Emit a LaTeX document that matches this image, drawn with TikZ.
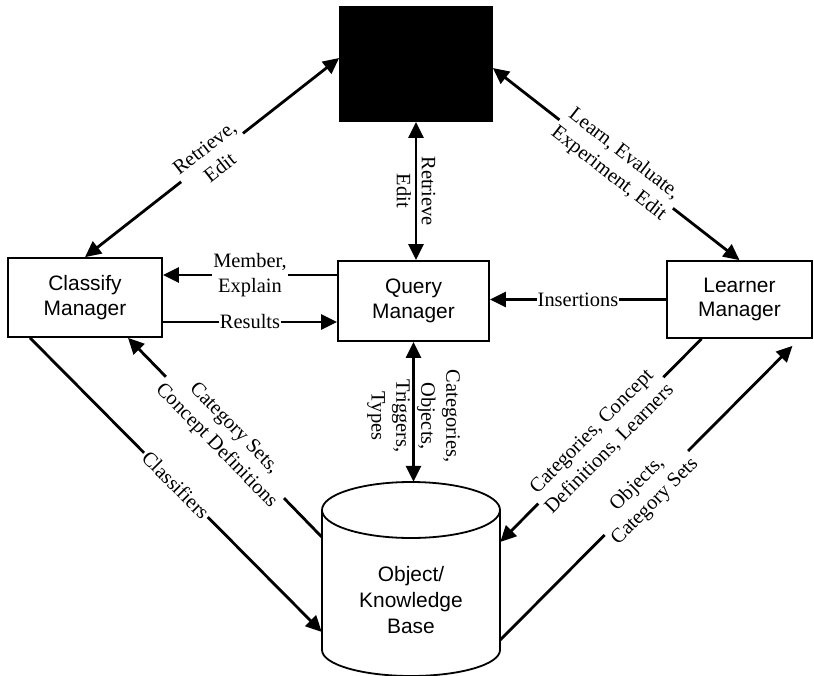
\documentclass[tikz,border=0pt]{standalone}
\usepackage{fontspec}
\setmainfont{Liberation Serif}
\newfontfamily\arialfont{Liberation Sans}
\usetikzlibrary{arrows.meta,calc}
\begin{document}
\begin{tikzpicture}[x=1bp,y=-1bp,
  box/.style={draw, line width=1.7bp, inner sep=0, font=\arialfont\fontsize{21}{25}\selectfont, align=center},
  kbstyle/.style={inner sep=0, font=\arialfont\fontsize{21}{26.5}\selectfont, align=center},
  conn/.style={line width=2.8bp},
  tip/.style={-{Triangle[length=16bp,width=15bp]}},
  both/.style={{Triangle[length=16bp,width=15bp]}-{Triangle[length=16bp,width=15bp]}},
  lbl/.style={font=\fontsize{20.5}{25}\selectfont, align=center, fill=white, inner sep=2bp},
  vlbl/.style={font=\fontsize{20.5}{25}\selectfont, align=center, inner sep=0, rotate=-90},
]
\useasboundingbox (0,0) rectangle (814,676);

% boxes
\node[box, fill=black, minimum width=152bp, minimum height=114bp] (bb) at (416,64) {};
\node[box, minimum width=154bp, minimum height=79bp] (cm) at (85,297.5) {Classify\\Manager};
\node[box, minimum width=151bp, minimum height=80bp] (qm) at (413.5,301) {Query\\Manager};
\node[box, minimum width=145bp, minimum height=77bp] (ln) at (739.5,299.5) {Learner\\Manager};

% cylinder
\draw[line width=1.8bp] (411,510) ellipse [x radius=89bp, y radius=28bp];
\draw[line width=1.8bp] (322,510) -- (322,650)
  arc[start angle=180, end angle=360, x radius=89bp, y radius=26bp] -- (500,510);
\node[kbstyle, minimum width=178bp, minimum height=236bp] (kb) at (411,600) {Object/\\Knowledge\\Base};

% connectors
\draw[conn,both] (cm.north) -- node[lbl, sloped]{Retrieve,\\Edit} ([yshift=6bp]bb.west);
\draw[conn,both] ([yshift=-4bp]bb.east) -- node[lbl, sloped]{Learn, Evaluate,\\Experiment, Edit} (ln.north);
\draw[conn,both] (bb.south) -- node[vlbl]{Retrieve\\Edit} (bb.south |- qm.north);
\draw[conn,both] (qm.south) -- node[vlbl, pos=0.53]{Categories,\\Objects,\\Triggers,\\Types} (qm.south |- kb.north);

\coordinate (m1) at ([yshift=26bp]qm.west);
\draw[conn,tip] (m1) -- node[lbl, inner sep=1bp]{Member,\\Explain} (m1 -| cm.east);
\coordinate (r1) at ([yshift=-21bp]qm.west);
\draw[conn,tip] (r1 -| cm.east) -- node[lbl, inner sep=1bp]{Results} (r1);
\draw[conn,tip] (ln.west) -- node[lbl, inner sep=1bp]{Insertions} (ln.west -| qm.east);

\draw[conn,tip] ([xshift=-55bp]cm.south) -- node[lbl, sloped]{Classifiers} ([yshift=-32bp]kb.west);
\draw[conn,tip] ([yshift=63bp]kb.west) -- node[lbl, sloped]{Category Sets,\\Concept Definitions} ([xshift=43bp]cm.south);
\draw[conn,tip] ([xshift=-38bp]ln.south) -- node[lbl, sloped]{Categories, Concept\\Definitions, Learners} ([yshift=58bp]kb.east);
\draw[conn,tip] ([yshift=-40bp]kb.east) -- node[lbl, sloped]{Objects,\\Category Sets} ([xshift=53bp,yshift=-7bp]ln.south);
\end{tikzpicture}
\end{document}
